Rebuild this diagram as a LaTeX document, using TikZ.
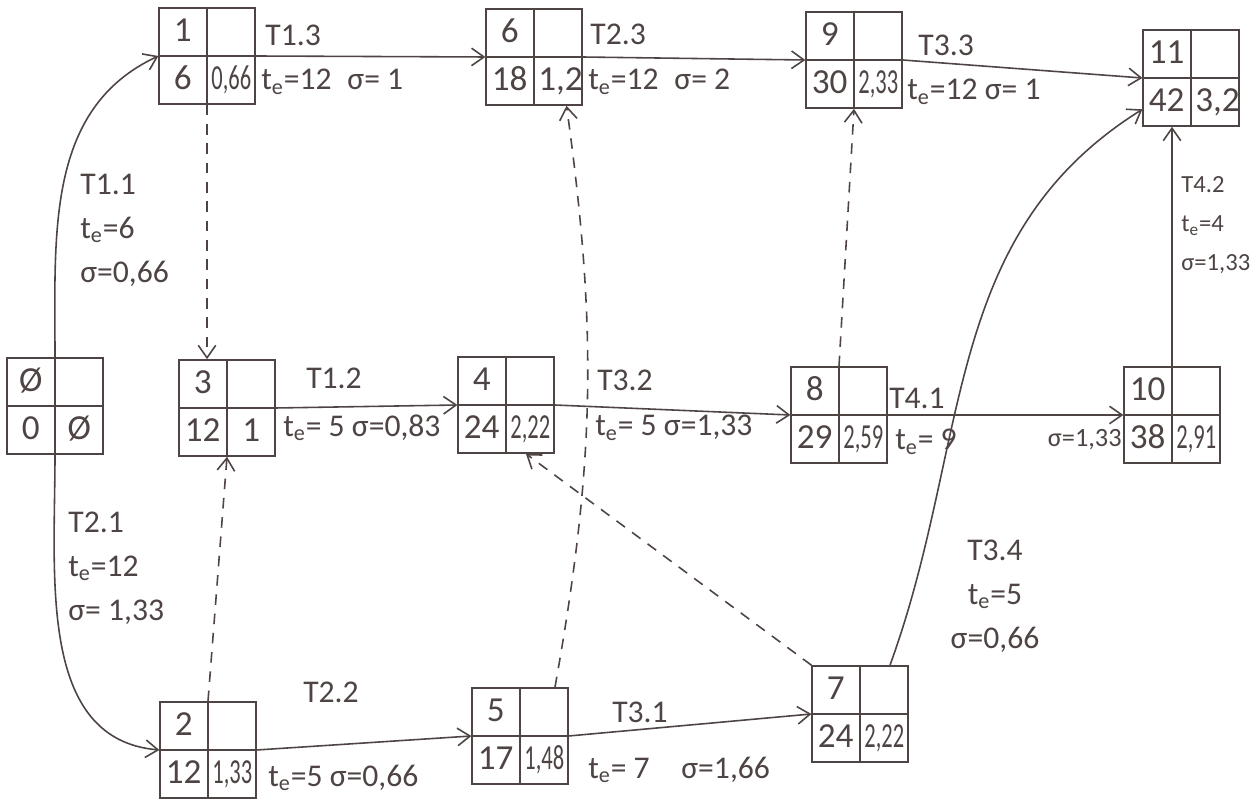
\documentclass[tikz,border=0pt]{standalone}
\usepackage{fontspec}
\setmainfont{Carlito}
\usepackage{array}
\usepackage{graphicx}
\usetikzlibrary{arrows.meta}
\definecolor{pen}{RGB}{78,68,68}
\newcommand{\te}{t\textsubscript{e}}
\newcommand{\narrow}[1]{\scalebox{0.64}[1]{#1}}
\newcommand{\cells}[3]{%
  \begin{tabular}{>{\centering\arraybackslash}p{0.8cm}|>{\centering\arraybackslash}p{0.8cm}}
    #1 & \\ \hline
    #2 & #3
  \end{tabular}}
\setlength{\arrayrulewidth}{0.9pt}
\setlength{\tabcolsep}{2pt}
\renewcommand{\arraystretch}{1.12}

\begin{document}
\begin{tikzpicture}[
  event/.style={draw=pen, text=pen, line width=0.9pt, inner sep=0pt, font=\fontsize{20}{24}\selectfont},
  task/.style={draw=pen, line width=0.9pt, -{Straight Barb[length=2.5mm,width=3.5mm]}},
  dummy/.style={task, dash pattern=on 6pt off 5pt},
  txt/.style={text=pen, inner sep=0pt, font=\fontsize{18}{25}\selectfont},
  small txt/.style={txt, font=\fontsize{15}{22}\selectfont}]
  \useasboundingbox[fill=white] (0,0) rectangle (25.1,16.16);

  \node[event] (0) at (1.10,8.04) {\cells{Ø}{0}{Ø}};
  \node[event] (1) at (4.14,15.04) {\cells{1}{6}{\narrow{0,66}}};
  \node[event] (6) at (10.68,15.02) {\cells{6}{18}{1,2}};
  \node[event] (9) at (17.08,14.96) {\cells{9}{30}{\narrow{2,33}}};
  \node[event] (11) at (23.82,14.60) {\cells{11}{42}{3,2}};
  \node[event] (3) at (4.54,8.00) {\cells{3}{12}{1}};
  \node[event] (4) at (10.12,8.06) {\cells{4}{24}{\narrow{2,22}}};
  \node[event] (8) at (16.78,7.86) {\cells{8}{29}{\narrow{2,59}}};
  \node[event] (10) at (23.44,7.86) {\cells{10}{38}{\narrow{2,91}}};
  \node[event] (2) at (4.16,1.16) {\cells{2}{12}{\narrow{1,33}}};
  \node[event] (5) at (10.40,1.44) {\cells{5}{17}{\narrow{1,48}}};
  \node[event] (7) at (17.20,1.88) {\cells{7}{24}{\narrow{2,22}}};

  \draw[task] (0.north) to[out=90,in=205] (1.west);
  \draw[task] (0.south) to[out=-90,in=175] (2.west);
  \draw[task] (1.east) -- (6.west);
  \draw[task] (6.east) -- (9.west);
  \draw[task] (9.east) -- (11.west);
  \draw[task] (3.east) -- (4.west);
  \draw[task] (4.east) -- (8.west);
  \draw[task] (8.east) -- (10.west);
  \draw[task] (10.north) -- (10.north |- 11.south);
  \draw[task] (2.east) -- (5.west);
  \draw[task] (5.east) -- (7.west);
  \draw[task] ([xshift=0.6cm]7.north) to[out=70,in=212] ([yshift=0.35cm]11.south west);

  \draw[dummy] (1.south) -- (1.south |- 3.north);
  \draw[dummy] (2.north) -- (3.south);
  \draw[dummy] (8.north) -- (9.south);
  \draw[dummy] ([xshift=0.7cm]5.north) to[bend right=9] ([xshift=0.65cm]6.south);
  \draw[dummy] (7.north west) -- ([xshift=0.4cm]4.south);

  \node[txt, anchor=west] (label13) at (5.30,15.46) {T1.3};
  \node[txt, anchor=west] (param13) at (5.22,14.52) {\te=12\enspace σ= 1};
  \node[txt, anchor=west] (label23) at (11.80,15.48) {T2.3};
  \node[txt, anchor=west] (param23) at (11.76,14.52) {\te=12\enspace σ= 2};
  \node[txt, anchor=west] (label33) at (18.36,15.26) {T3.3};
  \node[txt, anchor=west] (param33) at (18.14,14.32) {\te=12 σ= 1};
  \node[txt, anchor=west, align=left] (label11) at (1.60,11.56) {T1.1\\\te=6\\σ=0,66};
  \node[txt, anchor=west, align=left] (label21) at (1.36,4.80) {T2.1\\\te=12\\σ= 1,33};
  \node[txt] (label12) at (6.68,8.60) {T1.2};
  \node[txt, anchor=west] (param12) at (5.66,7.60) {\te= 5 σ=0,83};
  \node[txt] (label32) at (12.50,8.56) {T3.2};
  \node[txt, anchor=west] (param32) at (11.90,7.60) {\te= 5 σ=1,33};
  \node[txt] (label41) at (18.34,8.20) {T4.1};
  \node[txt, anchor=west] (param41) at (17.90,7.32) {\te= 9};
  \node[small txt, anchor=east] (sigma41) at (22.44,7.36) {σ=1,33};
  \node[small txt, anchor=west, align=left, font=\fontsize{14}{22}\selectfont] (label42) at (23.62,11.66) {T4.2\\\te=4\\σ=1,33};
  \node[txt, align=center] (label34) at (19.90,4.24) {T3.4\\\te=5\\σ=0,66};
  \node[txt] (label22) at (6.62,2.32) {T2.2};
  \node[txt, anchor=west] (param22) at (5.36,0.60) {\te=5 σ=0,66};
  \node[txt] (label31) at (12.80,1.92) {T3.1};
  \node[txt, anchor=west] (param31) at (11.76,0.76) {\te= 7\quad σ=1,66};
\end{tikzpicture}
\end{document}
